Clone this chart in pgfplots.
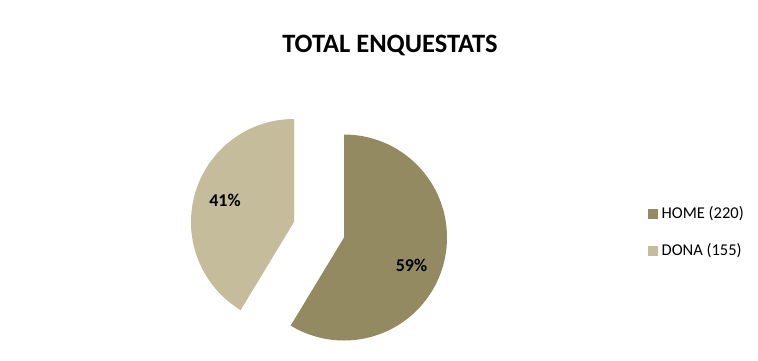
\documentclass[border=0pt]{standalone}
\usepackage{pgfplots}
\usepackage{pgfplotstable}
\pgfplotsset{compat=1.18}
\usepackage{fontspec}
\setmainfont{Carlito}
\definecolor{homec}{RGB}{148,138,98}
\definecolor{donac}{RGB}{196,188,155}
\pgfplotstableread{
label value
HOME 220
DONA 155
}\piedata
\begin{document}
\begin{tikzpicture}
\pgfplotstablegetelem{0}{value}\of\piedata \let\vhome\pgfplotsretval
\pgfplotstablegetelem{1}{value}\of\piedata \let\vdona\pgfplotsretval
\pgfmathsetmacro{\ahome}{360*(\vhome/(\vhome+\vdona))}
\begin{axis}[
  x=1pt, y=1pt, xmin=0, xmax=758, ymin=0, ymax=360,
  hide axis, clip=false,
  legend image code/.code={\fill[#1] (0pt,-4.5pt) rectangle (9pt,4.5pt);},
  legend style={at={(axis cs:648,127.75)}, anchor=west, draw=none, fill=none,
    inner sep=0pt, row sep=22.5pt,
    font=\fontsize{16.5}{19}\selectfont,
    nodes={inner sep=0pt, text height=12pt, text depth=3pt, anchor=west}},
  legend cell align=left,
]
\path (axis cs:0,0) rectangle (axis cs:758,360);
\addlegendimage{homec}
\addlegendentry{\hspace{4pt}HOME (220)}
\addlegendimage{donac}
\addlegendentry{\hspace{4pt}DONA (155)}
\fill[homec] (axis cs:344,122.5) -- (axis cs:344,225.5)
  arc[start angle=90, end angle={90-\ahome}, radius=103pt] -- cycle;
\fill[donac] (axis cs:294,138) -- (axis cs:294,241)
  arc[start angle=90, end angle={450-\ahome}, radius=103pt] -- cycle;
\node[font=\fontsize{26.5}{30}\selectfont\bfseries, inner sep=0pt] at (axis cs:390,315) {TOTAL ENQUESTATS};
\node[font=\fontsize{18}{21}\selectfont\bfseries, inner sep=0pt] at (axis cs:225,160) {41\%};
\node[font=\fontsize{18}{21}\selectfont\bfseries, inner sep=0pt] at (axis cs:411.5,95) {59\%};
\end{axis}
\end{tikzpicture}
\end{document}
